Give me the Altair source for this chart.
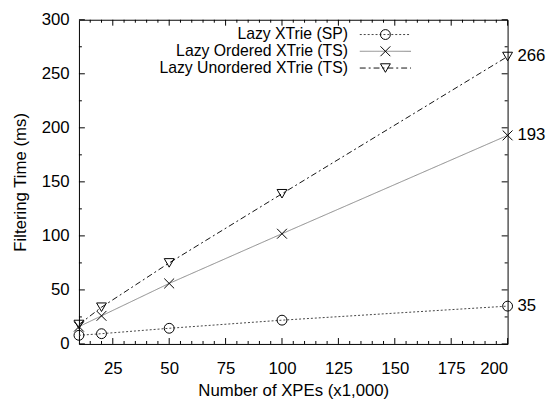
import altair as alt
import pandas as pd

x_vals = [10, 20, 50, 100, 200]
series_names = ["Lazy XTrie (SP)", "Lazy Ordered XTrie (TS)", "Lazy Unordered XTrie (TS)"]
sp_vals = [8, 9.5, 14.5, 22, 35]
ordered_vals = [16, 26, 56, 102, 193]
unordered_vals = [18, 34, 75, 139, 266]

x_major = [25, 50, 75, 100, 125, 150, 175, 200]
x_minor = [v for v in range(15, 200, 5) if v % 25 != 0]
y_major = [0, 50, 100, 150, 200, 250, 300]
y_minor = [25, 75, 125, 175, 225, 275]

W, H = 435, 329
FONT = "Liberation Sans"
FS = 17
LFS = 16

rows = []
for name, vals in zip(series_names, [sp_vals, ordered_vals, unordered_vals]):
    for xv, yv in zip(x_vals, vals):
        rows.append({"series": name, "x": xv, "y": yv})
df = pd.DataFrame(rows)
last = df[df["x"] == x_vals[-1]].copy()
last["label"] = last["y"].map(lambda v: f"{v:g}")

colors = ["#444444", "#888888", "#111111"]
dashes = [[2, 2], [1, 0], [6, 3, 2, 3]]
xpath = "M-1,-1L1,1M-1,1L1,-1"
shapes = ["circle", xpath, "triangle-down"]

xscale = alt.Scale(domain=[10, 200], nice=False, zero=False)
yscale = alt.Scale(domain=[0, 300], nice=False)


def xenc(field):
    return alt.X(f"{field}:Q", scale=xscale,
                 axis=alt.Axis(values=x_major, ticks=False, domain=False, grid=False,
                               title="Number of XPEs (x1,000)", labelPadding=17, titlePadding=6))


def yenc(field):
    return alt.Y(f"{field}:Q", scale=yscale,
                 axis=alt.Axis(values=y_major, ticks=False, domain=False, grid=False,
                               title="Filtering Time (ms)", labelPadding=10, titlePadding=12))


col = alt.Color("series:N", scale=alt.Scale(domain=series_names, range=colors), legend=None)
dash = alt.StrokeDash("series:N", scale=alt.Scale(domain=series_names, range=dashes), legend=None)
shp = alt.Shape("series:N", scale=alt.Scale(domain=series_names, range=shapes), legend=None)

base = alt.Chart(df)
lines = base.mark_line(strokeWidth=1).encode(x=xenc("x"), y=yenc("y"), color=col, strokeDash=dash, detail="series:N")
points = base.mark_point(filled=False, color="black", strokeWidth=1, size=100, opacity=1).encode(
    x=xenc("x"), y=yenc("y"), shape=shp)
labels = alt.Chart(last).mark_text(align="left", baseline="middle", dx=10, font=FONT, fontSize=FS,
                                   color="black").encode(
    x=xenc("x"), y=yenc("y"), text="label:N")

layers = [lines, points, labels]

# inward ticks
ymaj = pd.DataFrame({"v": y_major})
ymin = pd.DataFrame({"v": y_minor})
xmaj = pd.DataFrame({"v": x_major})
xmin = pd.DataFrame({"v": x_minor})
for d, ln in [(ymaj, 6), (ymin, 3)]:
    layers.append(alt.Chart(d).mark_rule(color="black", strokeWidth=1).encode(
        y=yenc("v"), x=alt.value(0), x2=alt.value(ln)))
    layers.append(alt.Chart(d).mark_rule(color="black", strokeWidth=1).encode(
        y=yenc("v"), x=alt.value(W - ln), x2=alt.value(W)))
for d, ln in [(xmaj, 6), (xmin, 3)]:
    layers.append(alt.Chart(d).mark_rule(color="black", strokeWidth=1).encode(
        x=xenc("v"), y=alt.value(H), y2=alt.value(H - ln)))
    layers.append(alt.Chart(d).mark_rule(color="black", strokeWidth=1).encode(
        x=xenc("v"), y=alt.value(0), y2=alt.value(ln)))

# custom legend (gnuplot style: label, then sample line with symbol)
one = pd.DataFrame({"k": [0]})
leg_y = [15, 32, 49]
for name, c, dsh, sh, ly in zip(series_names, colors, dashes, shapes, leg_y):
    layers.append(alt.Chart(one).mark_text(align="right", baseline="middle", font=FONT, fontSize=LFS,
                                           color="black").encode(
        x=alt.value(273), y=alt.value(ly), text=alt.value(name)))
    layers.append(alt.Chart(one).mark_rule(color=c, strokeWidth=1, strokeDash=dsh).encode(
        x=alt.value(285), x2=alt.value(337), y=alt.value(ly)))
    layers.append(alt.Chart(one).mark_point(shape=sh, filled=False, color="black", strokeWidth=1,
                                            size=100, opacity=1).encode(
        x=alt.value(311), y=alt.value(ly)))

chart = alt.layer(*layers).properties(
    width=W, height=H,
    background="white",
    autosize=alt.AutoSizeParams(type="none"),
    padding={"left": 72, "top": 9, "right": 41, "bottom": 57},
).configure_view(stroke="black", strokeWidth=1).configure_axis(
    labelFont=FONT, labelFontSize=FS, labelColor="black",
    titleFont=FONT, titleFontSize=FS, titleColor="black", titleFontWeight="normal",
)

chart.save("out.html", embed_options={"renderer": "svg", "actions": False})
